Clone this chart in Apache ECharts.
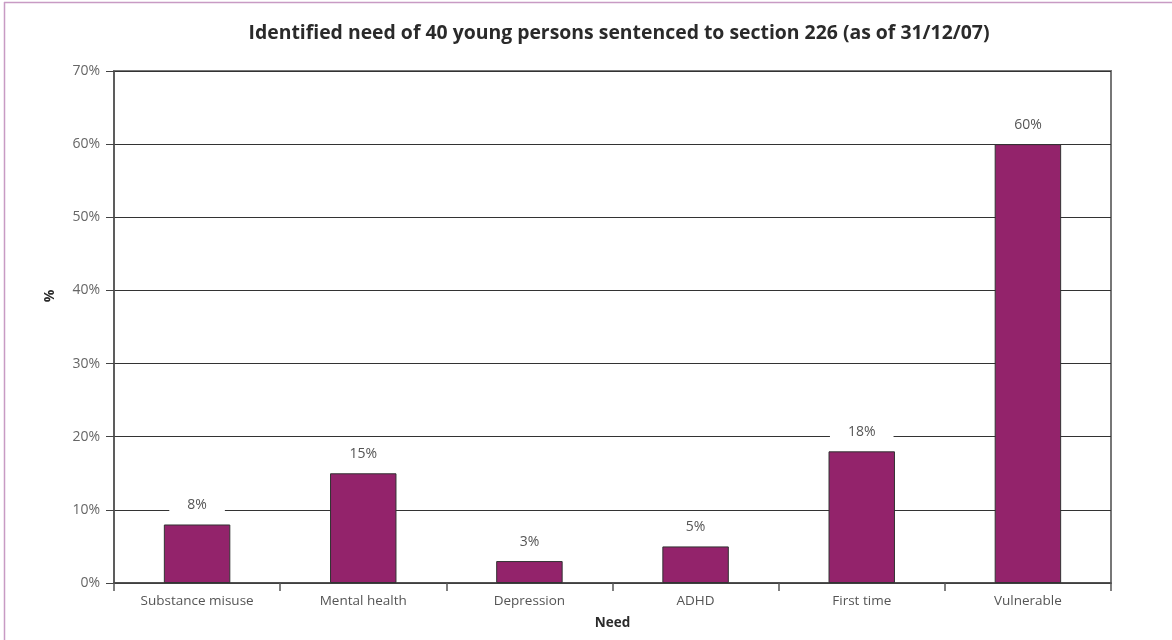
<!DOCTYPE html>
<html>
<head>
<meta charset="utf-8">
<script src="https://cdn.jsdelivr.net/npm/echarts@6/dist/echarts.min.js"></script>
<style>
  html, body { margin: 0; padding: 0; background: #fff; }
  #chart { width: 1172px; height: 640px; }
</style>
</head>
<body>
<div id="chart"></div>
<script>
// Needs identified among the 40 young persons (percent of cohort)
const categories = ['Substance misuse', 'Mental health', 'Depression', 'ADHD', 'First time', 'Vulnerable'];
const percentValues = [8, 15, 3, 5, 18, 60];
const yTicks = [0, 10, 20, 30, 40, 50, 60, 70];

const FONT = '"Open Sans", "Liberation Sans", sans-serif';
const chart = echarts.init(document.getElementById('chart'), null, { renderer: 'canvas' });

chart.setOption({
  backgroundColor: '#ffffff',
  animation: false,
  title: {
    text: 'Identified need of 40 young persons sentenced to section 226 (as of 31/12/07)',
    left: 614,
    textAlign: 'center',
    top: 19,
    textStyle: { fontFamily: FONT, fontSize: 19.4, fontWeight: 'bold', color: '#2a2a2a' }
  },
  graphic: [
    { type: 'line', shape: { x1: 4, y1: 2.5, x2: 1172, y2: 2.5 }, style: { stroke: '#c89bc4', lineWidth: 1.5 } },
    { type: 'line', shape: { x1: 4.5, y1: 2, x2: 4.5, y2: 640 }, style: { stroke: '#c89bc4', lineWidth: 1.5 } }
  ],
  grid: {
    left: 114, right: 61, top: 71, bottom: 57,
    show: true, borderColor: '#777777', borderWidth: 2, backgroundColor: 'transparent'
  },
  xAxis: {
    type: 'category',
    data: categories,
    name: 'Need',
    nameLocation: 'middle',
    nameGap: 33,
    nameTextStyle: { fontFamily: FONT, fontSize: 13.5, fontWeight: 'bold', color: '#2a2a2a' },
    axisLine: { lineStyle: { color: '#444444', width: 1.5 } },
    axisTick: { show: true, length: 8, lineStyle: { color: '#555555', width: 1.5 } },
    axisLabel: { fontFamily: FONT, fontSize: 13.5, color: '#555555', margin: 11 },
    splitLine: { show: false }
  },
  yAxis: {
    type: 'value',
    min: 0, max: 70, interval: 10,
    name: '%',
    nameLocation: 'middle',
    nameGap: 57,
    nameRotate: 90,
    nameTextStyle: {
      fontFamily: FONT, fontSize: 14, fontWeight: 'bold', color: '#2a2a2a',
      padding: [0, 0, 0, 62]
    },
    axisLine: { show: true, lineStyle: { color: '#555555', width: 1.5 } },
    axisTick: { show: true, length: 8, lineStyle: { color: '#444444', width: 1 } },
    axisLabel: {
      fontFamily: FONT, fontSize: 14, color: '#666666', margin: 14,
      formatter: v => (yTicks.indexOf(v) >= 0 ? v + '%' : '')
    },
    splitLine: { show: true, lineStyle: { color: '#333333', width: 1.2 } }
  },
  series: [{
    type: 'bar',
    data: percentValues,
    barWidth: '40%',
    itemStyle: { color: '#93236b', borderColor: '#333333', borderWidth: 1 },
    label: {
      show: true,
      position: 'top',
      distance: 10,
      formatter: p => p.value + '%',
      fontFamily: FONT, fontSize: 14, color: '#555555',
      backgroundColor: '#ffffff',
      padding: [2, 18]
    },
    z: 3
  }]
});
</script>
</body>
</html>
